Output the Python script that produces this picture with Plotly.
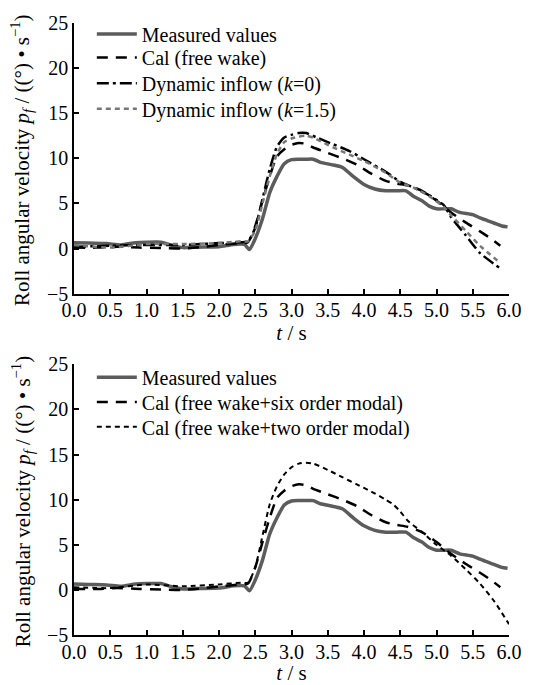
import plotly.graph_objects as go
from plotly.subplots import make_subplots

# ---- data ----
t_meas = [0.0, 0.2, 0.45, 0.65, 0.85, 1.0, 1.2, 1.35, 1.5, 1.7, 2.0, 2.2, 2.35, 2.42,
          2.5, 2.6, 2.7, 2.8, 2.9, 3.0, 3.1, 3.2, 3.3, 3.4, 3.55, 3.7, 3.85, 4.0, 4.15,
          4.3, 4.45, 4.58, 4.68, 4.8, 4.9, 5.0, 5.1, 5.2, 5.32, 5.5, 5.6, 5.7, 5.8, 5.9, 5.98]
v_meas = [0.65, 0.6, 0.55, 0.4, 0.65, 0.7, 0.7, 0.35, 0.1, 0.15, 0.2, 0.45, 0.45, -0.1,
          1.1, 3.3, 6.2, 8.0, 9.4, 9.85, 9.9, 9.9, 9.9, 9.55, 9.3, 9.0, 8.0, 7.1, 6.6,
          6.4, 6.4, 6.4, 5.8, 5.3, 4.7, 4.4, 4.4, 4.4, 4.0, 3.75, 3.4, 3.1, 2.8, 2.5, 2.4]

t_cal = [0.0, 0.3, 0.6, 0.9, 1.2, 1.5, 1.8, 2.0, 2.3, 2.4, 2.5, 2.6, 2.7, 2.8, 2.9, 3.0,
         3.1, 3.2, 3.3, 3.5, 3.7, 3.9, 4.1, 4.3, 4.45, 4.6, 4.8, 5.0, 5.2, 5.4, 5.6, 5.75, 5.88]
v_cal = [0.1, 0.1, 0.2, 0.1, 0.05, 0.0, 0.2, 0.4, 0.6, 0.7, 2.5, 5.3, 8.0, 10.2, 11.0, 11.5,
         11.7, 11.6, 11.2, 10.6, 10.0, 9.3, 8.3, 7.5, 7.2, 7.0, 6.4, 5.3, 4.0, 2.9, 1.9, 1.1, 0.3]

t_dyn0 = [0.0, 0.5, 1.0, 1.5, 2.0, 2.3, 2.4, 2.5, 2.6, 2.7, 2.8, 2.9, 3.0, 3.1, 3.2, 3.35,
          3.5, 3.8, 4.0, 4.3, 4.5, 4.7, 4.9, 5.1, 5.2, 5.4, 5.6, 5.88]
v_dyn0 = [0.2, 0.3, 0.4, 0.4, 0.6, 0.7, 0.8, 2.3, 5.5, 8.8, 11.3, 12.3, 12.6, 12.8, 12.8, 12.3,
          11.8, 10.8, 9.9, 8.5, 7.4, 6.7, 5.9, 4.8, 3.5, 1.5, -0.5, -2.2]

t_dyn15 = [0.0, 0.5, 1.0, 1.5, 2.0, 2.3, 2.4, 2.5, 2.6, 2.7, 2.8, 2.9, 3.0, 3.1, 3.2, 3.3,
           3.5, 3.8, 4.0, 4.3, 4.5, 4.7, 4.9, 5.1, 5.2, 5.4, 5.6, 5.88]
v_dyn15 = [0.4, 0.1, 0.5, 0.5, 0.6, 0.8, 0.8, 2.0, 5.0, 8.0, 10.5, 11.8, 12.2, 12.4, 12.5, 12.3,
           11.5, 10.4, 9.7, 8.4, 7.3, 6.7, 5.8, 4.6, 3.7, 2.0, 0.3, -1.6]

t_two = [0.0, 0.5, 1.0, 1.5, 2.0, 2.3, 2.4, 2.5, 2.6, 2.7, 2.8, 2.9, 3.0, 3.1, 3.2, 3.3,
         3.5, 3.7, 3.9, 4.1, 4.3, 4.4, 4.5, 4.6, 4.8, 5.0, 5.2, 5.4, 5.6, 5.8, 6.0]
v_two = [0.3, 0.2, 0.6, 0.4, 0.6, 0.8, 0.8, 2.5, 6.0, 9.5, 11.5, 12.8, 13.6, 14.0, 14.1, 14.0,
         13.3, 12.5, 11.7, 10.9, 10.0, 9.5, 8.7, 7.7, 6.4, 5.0, 3.8, 2.3, 0.7, -1.3, -3.8]

x_ticks = [0.0, 0.5, 1.0, 1.5, 2.0, 2.5, 3.0, 3.5, 4.0, 4.5, 5.0, 5.5, 6.0]
y_ticks = [-5, 0, 5, 10, 15, 20, 25]

FONT = "Times New Roman, Liberation Serif, DejaVu Serif, serif"
GRAY = "#5c5c5c"

fig = make_subplots(rows=2, cols=1, vertical_spacing=0.1156)

# one small legend per entry so rows can sit at the reference's spacing
LEG_X = 0.041
leg_rows = {
    "legend": 0.982, "legend2": 0.9435, "legend3": 0.9016, "legend4": 0.8597,
    "legend5": 0.421, "legend6": 0.3806, "legend7": 0.3403,
}

def add(row, x, y, name, color, width, dash, legend):
    fig.add_trace(go.Scatter(x=x, y=y, mode="lines", name=name, legend=legend,
                             line=dict(color=color, width=width, dash=dash, shape="spline",
                                       smoothing=0.6)),
                  row=row, col=1)

add(1, t_meas, v_meas, "Measured values", GRAY, 3.5, "solid", "legend")
add(1, t_cal, v_cal, "Cal (free wake)", "black", 2.5, "11px,8px", "legend2")
add(1, t_dyn0, v_dyn0, "Dynamic inflow (<i>k</i>=0)", "black", 2.5, "12px,4px,3px,4px", "legend3")
add(1, t_dyn15, v_dyn15, "Dynamic inflow (<i>k</i>=1.5)", "#777777", 2.5, "5px,4px", "legend4")

add(2, t_meas, v_meas, "Measured values", GRAY, 3.5, "solid", "legend5")
add(2, t_cal, v_cal, "Cal (free wake+six order modal)", "black", 2.5, "11px,8px", "legend6")
add(2, t_two, v_two, "Cal (free wake+two order modal)", "black", 2.0, "5px,4px", "legend7")

for r in (1, 2):
    fig.update_xaxes(row=r, col=1, range=[0, 6], tickvals=x_ticks, tickformat=".1f",
                     showline=True, linecolor="black", linewidth=1.5, ticks="inside",
                     ticklen=5, tickwidth=1.5, tickcolor="black", showgrid=False,
                     zeroline=False, automargin=False, ticklabelstandoff=-2,
                     ticklabeloverflow="allow",
                     title=dict(text="<i>t</i> / s", standoff=2),
                     tickfont=dict(size=20, family=FONT), title_font=dict(size=21, family=FONT))
    fig.update_yaxes(row=r, col=1, range=[-5, 25], tickvals=y_ticks,
                     showline=True, linecolor="black", linewidth=1.5, ticks="inside",
                     ticklen=5, tickwidth=1.5, tickcolor="black", showgrid=False,
                     zeroline=False, automargin=False, ticklabeloverflow="allow",
                     tickfont=dict(size=20, family=FONT))

ytitle = "Roll angular velocity <i>p<sub>f</sub></i> / ((°) • s<sup>−1</sup>)"
for yref in ("y domain", "y2 domain"):
    fig.add_annotation(text=ytitle, textangle=-90, xref="paper", yref=yref,
                       x=-0.1195, y=0.494, xanchor="center", yanchor="middle",
                       showarrow=False, font=dict(size=21, family=FONT, color="black"))

legends = {}
for name, yy in leg_rows.items():
    legends[name] = dict(x=LEG_X, y=yy, xanchor="left", yanchor="middle",
                         bgcolor="rgba(0,0,0,0)", font=dict(size=20, family=FONT),
                         itemwidth=40)

fig.update_layout(
    width=537, height=677,
    margin=dict(l=66, r=36, t=7, b=50),
    paper_bgcolor="white", plot_bgcolor="white",
    font=dict(family=FONT, size=20, color="black"),
    showlegend=True,
    **legends,
)

fig.write_html("out.html")
